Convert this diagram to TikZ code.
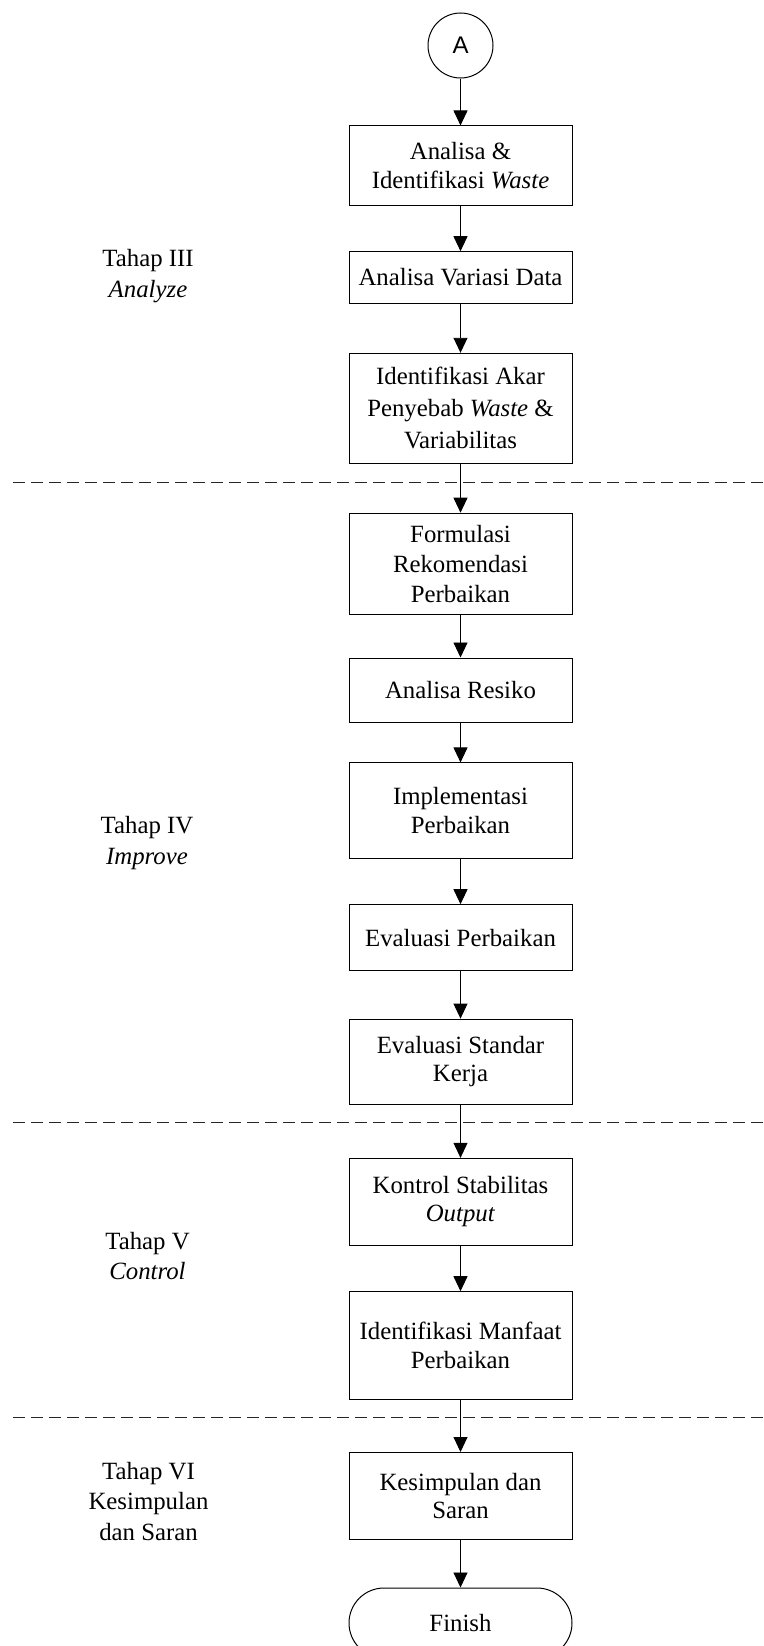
\documentclass[tikz,border=0pt]{standalone}
\usepackage{fontspec}
\setmainfont{Liberation Serif}
\newfontfamily\connfont{Liberation Sans}
\usetikzlibrary{arrows.meta}
\begin{document}
\begin{tikzpicture}[x=1pt,y=-1pt,
  stepbox/.style={draw, line width=1pt, minimum width=223pt, align=center, inner sep=0pt,
    font=\fontsize{24.8}{28.5}\selectfont},
  flow/.style={draw, line width=0.9pt, -{Triangle[length=15pt,width=14pt]}},
  phase/.style={align=center, font=\fontsize{24.8}{30.5}\selectfont},
  divider/.style={draw=black!85, line width=1pt, dash pattern=on 12pt off 6pt}]
\useasboundingbox (0,0) rectangle (763,1646);

% connector and process steps
\node[circle, draw, line width=1pt, minimum size=65pt, inner sep=0pt,
  font=\connfont\fontsize{24}{28}\selectfont] (A) at (460.5,45.5) {A};
\node[stepbox, minimum height=79.7pt] (b1) at (460.5,165.8) {Analisa \&\\Identifikasi \textit{Waste}};
\node[stepbox, minimum height=51.6pt] (b2) at (460.5,277.5) {Analisa Variasi Data};
\node[stepbox, minimum height=110pt, font=\fontsize{24.8}{32}\selectfont] (b3) at (460.5,408.3)
  {Identifikasi Akar\\Penyebab \textit{Waste} \&\\Variabilitas};
\node[stepbox, minimum height=100.8pt, font=\fontsize{24.8}{30}\selectfont] (b4) at (460.5,563.6)
  {Formulasi\\Rekomendasi\\Perbaikan};
\node[stepbox, minimum height=64pt] (b5) at (460.5,690) {Analisa Resiko};
\node[stepbox, minimum height=95.5pt] (b6) at (460.5,810.7) {Implementasi\\Perbaikan};
\node[stepbox, minimum height=66pt] (b7) at (460.5,937.7) {Evaluasi Perbaikan};
\node[stepbox, minimum height=85pt] (b8) at (460.5,1061.6) {Evaluasi Standar\\Kerja};
\node[stepbox, minimum height=86.7pt] (b9) at (460.5,1201.7) {Kontrol Stabilitas\\\textit{Output}};
\node[stepbox, minimum height=107.6pt] (b10) at (460.5,1345.5) {Identifikasi Manfaat\\Perbaikan};
\node[stepbox, minimum height=87pt] (b11) at (460.5,1496) {Kesimpulan dan\\Saran};
\node[stepbox, minimum height=70pt, rounded corners=35pt] (fin) at (460.5,1623) {Finish};

% flow arrows
\draw[flow] (A) -- (b1);
\draw[flow] (b1) -- (b2);
\draw[flow] (b2) -- (b3);
\draw[flow] (b3) -- (b4);
\draw[flow] (b4) -- (b5);
\draw[flow] (b5) -- (b6);
\draw[flow] (b6) -- (b7);
\draw[flow] (b7) -- (b8);
\draw[flow] (b8) -- (b9);
\draw[flow] (b9) -- (b10);
\draw[flow] (b10) -- (b11);
\draw[flow] (b11) -- (fin);

% phase dividers
\draw[divider] (13,482.3) -- (763,482.3);
\draw[divider] (13,1122.7) -- (763,1122.7);
\draw[divider] (13,1417) -- (763,1417);

% phase labels
\node[phase] (p3) at (148,276) {Tahap III\\\textit{Analyze}};
\node[phase] (p4) at (147,843) {Tahap IV\\\textit{Improve}};
\node[phase] (p5) at (147.5,1256) {Tahap V\\\textit{Control}};
\node[phase] (p6) at (148.5,1501) {Tahap VI\\Kesimpulan\\dan Saran};
\end{tikzpicture}
\end{document}
